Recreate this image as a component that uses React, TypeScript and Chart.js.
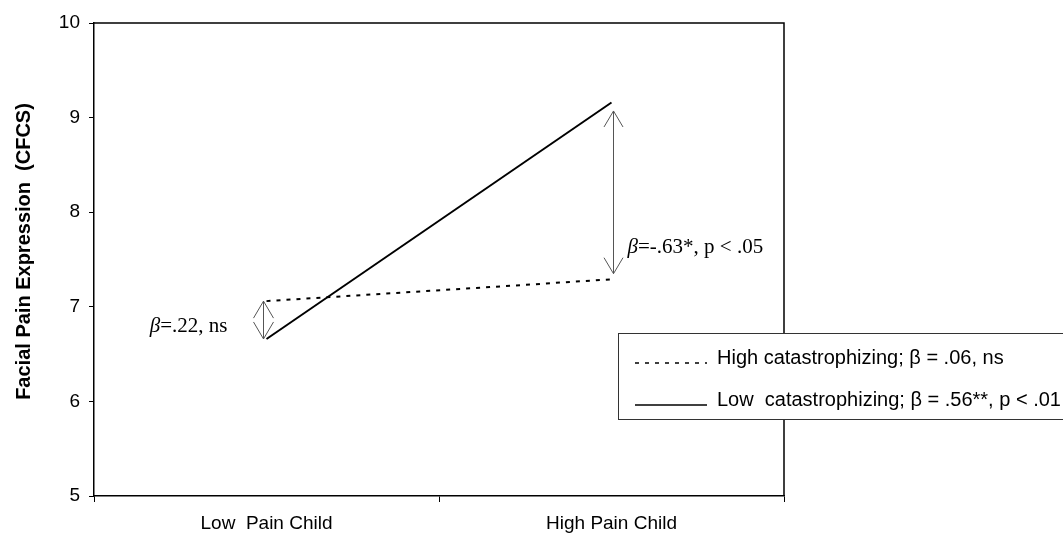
import React, { useEffect, useRef } from 'react';
import { Chart, registerables } from 'chart.js';

Chart.register(...registerables);

// ---- data ----
const categories = ['Low  Pain Child', 'High Pain Child'];
const highCatValues = [7.06, 7.29];
const lowCatValues = [6.66, 9.16];
const yMin = 5;
const yMax = 10;
const yStep = 1;
const seriesLabels = [
  'High catastrophizing; β = .06, ns',
  'Low  catastrophizing; β = .56**, p < .01',
];
const yTitle = 'Facial Pain Expression  (CFCS)';
// double-headed arrow annotations
const arrowCategory = [0, 1];
const arrowFrom = [7.06, 9.07];
const arrowTo = [6.66, 7.35];
const annotationBeta = ['β', 'β'];
const annotationRest = ['=.22, ns', '=-.63*, p < .05'];
const annotationValue = [6.73, 7.57];

const SANS = '"Liberation Sans", Arial, sans-serif';
const SERIF = '"Liberation Serif", "Times New Roman", serif';

const overlayPlugin = {
  id: 'overlay',
  afterDraw(chart: any) {
    const { ctx, chartArea, scales } = chart;
    const xs = scales.x;
    const ys = scales.y;
    ctx.save();

    // frame top & right
    ctx.strokeStyle = '#000';
    ctx.lineWidth = 1.5;
    ctx.beginPath();
    ctx.moveTo(chartArea.left, chartArea.top);
    ctx.lineTo(chartArea.right, chartArea.top);
    ctx.lineTo(chartArea.right, chartArea.bottom);
    ctx.stroke();

    // y title
    ctx.save();
    ctx.translate(24, (chartArea.top + chartArea.bottom) / 2 - 8);
    ctx.rotate(-Math.PI / 2);
    ctx.font = `bold 20px ${SANS}`;
    ctx.fillStyle = '#000';
    ctx.textAlign = 'center';
    ctx.textBaseline = 'middle';
    ctx.fillText(yTitle, 0, 0);
    ctx.restore();

    // arrows
    const shifts = [-3, 2];
    const heads = [
      [10, 17],
      [9.5, 16],
    ];
    ctx.strokeStyle = '#555';
    ctx.lineWidth = 1;
    arrowCategory.forEach((cat, i) => {
      const x = xs.getPixelForValue(cat) + shifts[i];
      const y1 = ys.getPixelForValue(arrowFrom[i]);
      const y2 = ys.getPixelForValue(arrowTo[i]);
      const top = Math.min(y1, y2);
      const bot = Math.max(y1, y2);
      const [hw, hl] = heads[i];
      ctx.beginPath();
      ctx.moveTo(x, top);
      ctx.lineTo(x, bot);
      ctx.moveTo(x - hw, top + hl);
      ctx.lineTo(x, top);
      ctx.lineTo(x + hw, top + hl);
      ctx.moveTo(x - hw, bot - hl);
      ctx.lineTo(x, bot);
      ctx.lineTo(x + hw, bot - hl);
      ctx.stroke();

      // annotation text
      const yb = ys.getPixelForValue(annotationValue[i]);
      ctx.fillStyle = '#000';
      ctx.textBaseline = 'alphabetic';
      ctx.textAlign = 'left';
      ctx.font = `italic 21px ${SERIF}`;
      const wB = ctx.measureText(annotationBeta[i]).width;
      ctx.font = `21px ${SERIF}`;
      const wR = ctx.measureText(annotationRest[i]).width;
      let tx = i === 0 ? x - 36 - (wB + wR) : x + 14;
      ctx.font = `italic 21px ${SERIF}`;
      ctx.fillText(annotationBeta[i], tx, yb);
      ctx.font = `21px ${SERIF}`;
      ctx.fillText(annotationRest[i], tx + wB, yb);
    });

    // legend box
    const lx = chartArea.right - 166;
    const ly = chartArea.top + 310;
    const lw = 600;
    const lh = 86;
    ctx.fillStyle = '#fff';
    ctx.fillRect(lx, ly, lw, lh);
    ctx.strokeStyle = '#333';
    ctx.lineWidth = 1;
    ctx.strokeRect(lx + 0.5, ly + 0.5, lw, lh);

    const rows = [ly + 31, ly + 73];
    const dashes = [[4, 6], []];
    rows.forEach((ry, i) => {
      ctx.strokeStyle = '#000';
      ctx.lineWidth = i === 0 ? 1.5 : 1.5;
      ctx.setLineDash(dashes[i]);
      ctx.beginPath();
      ctx.moveTo(lx + 17, ry - 1);
      ctx.lineTo(lx + 89, ry - 1);
      ctx.stroke();
      ctx.setLineDash([]);
      ctx.fillStyle = '#000';
      ctx.font = `20px ${SANS}`;
      ctx.textAlign = 'left';
      ctx.textBaseline = 'alphabetic';
      ctx.fillText(seriesLabels[i], lx + 99, ry);
    });

    ctx.restore();
  },
};

export default function App() {
  const canvasRef = useRef<HTMLCanvasElement | null>(null);

  useEffect(() => {
    if (!canvasRef.current) return;
    const chart = new Chart(canvasRef.current, {
      type: 'line',
      data: {
        labels: categories,
        datasets: [
          {
            label: seriesLabels[0],
            data: highCatValues,
            borderColor: '#000',
            borderWidth: 2,
            borderDash: [4, 6],
            pointRadius: 0,
            fill: false,
            tension: 0,
          },
          {
            label: seriesLabels[1],
            data: lowCatValues,
            borderColor: '#000',
            borderWidth: 2,
            pointRadius: 0,
            fill: false,
            tension: 0,
          },
        ],
      },
      options: {
        responsive: false,
        animation: false,
        layout: { padding: { left: 0, right: 279, top: 23, bottom: 0 } },
        plugins: {
          legend: { display: false },
          tooltip: { enabled: false },
          title: { display: false },
        },
        scales: {
          x: {
            type: 'category',
            offset: true,
            grid: {
              display: true,
              drawOnChartArea: false,
              drawTicks: true,
              tickLength: 6,
              color: '#000',
              offset: true,
            },
            border: { display: true, color: '#000', width: 1.5 },
            ticks: {
              color: '#000',
              font: { family: SANS, size: 19 },
              padding: 10,
              maxRotation: 0,
              autoSkip: false,
            },
            afterFit: (s: any) => {
              s.height = 39;
            },
          },
          y: {
            min: yMin,
            max: yMax,
            ticks: {
              stepSize: yStep,
              color: '#000',
              font: { family: SANS, size: 19 },
              padding: 9,
            },
            grid: {
              display: true,
              drawOnChartArea: false,
              drawTicks: true,
              tickLength: 5,
              color: '#000',
            },
            border: { display: true, color: '#000', width: 1.5 },
            afterFit: (s: any) => {
              s.width = 94;
            },
          },
        },
      },
      plugins: [overlayPlugin],
    });
    return () => chart.destroy();
  }, []);

  return (
    <div style={{ position: 'fixed', left: 0, top: 0, width: 1063, height: 535, background: '#fff', overflow: 'hidden' }}>
      <canvas ref={canvasRef} width={1063} height={535} style={{ display: 'block' }} />
    </div>
  );
}
